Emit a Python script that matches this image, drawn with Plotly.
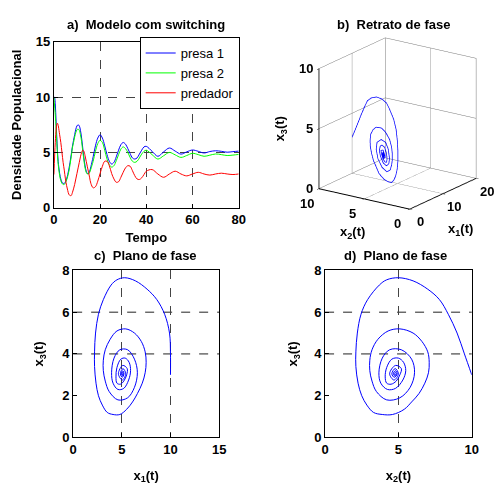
import plotly.graph_objects as go

# ---------------- data ----------------
time = [0, 0.2, 0.4, 0.6, 0.8, 1.0, 1.25, 1.5, 1.75, 2.0, 2.5, 3.0, 3.5, 4.0, 4.5,
        5.0, 5.5, 6.0, 6.5, 7.0, 7.5, 8.0, 8.5, 9.0, 9.5, 10.0, 10.5, 11.0, 11.5,
        12.0, 12.5, 13.0, 13.5, 14.0, 14.5, 15.0, 15.5, 16, 17, 18, 19, 20, 21, 22,
        23, 24, 25, 26, 27, 28, 29, 30, 31, 32, 33, 34, 35, 36, 37, 38, 39, 40,
        42.5, 45, 47.5, 50, 52.5, 55, 57.5, 60, 62.5, 65, 67.5, 70, 72.5, 75, 77.5, 80]

presa1 = [10.0, 10.0, 9.9, 9.4, 8.6, 7.6, 6.4, 5.3, 4.5, 3.9, 3.1, 2.6, 2.3, 2.2, 2.2,
          2.35, 2.6, 3.0, 3.5, 4.1, 4.8, 5.5, 6.1, 6.6, 7.1, 7.4, 7.5, 7.4, 7.0,
          6.3, 5.4, 4.5, 3.8, 3.3, 3.1, 3.1, 3.3, 3.7, 4.6, 5.6, 6.3, 6.6, 6.3, 5.6,
          4.8, 4.2, 3.95, 4.1, 4.6, 5.2, 5.7, 5.9, 5.75, 5.35, 4.9, 4.5, 4.4, 4.5, 4.85, 5.2, 5.5, 5.55,
          5.1, 4.65, 5.05, 5.4, 5.12, 4.85, 5.05, 5.22, 5.1, 4.95, 5.08, 5.15, 5.1, 5.02, 5.07, 5.12]

presa2 = [10.0, 9.5, 9.0, 8.4, 7.8, 7.0, 6.0, 5.0, 4.2, 3.7, 2.9, 2.45, 2.2, 2.1, 2.1,
          2.25, 2.5, 2.85, 3.3, 3.9, 4.6, 5.4, 5.9, 6.4, 6.8, 7.05, 7.1, 7.0, 6.6,
          6.0, 5.1, 4.3, 3.6, 3.2, 3.05, 3.05, 3.2, 3.5, 4.2, 5.1, 5.8, 6.1, 5.9, 5.2,
          4.4, 3.9, 3.67, 3.8, 4.25, 4.8, 5.3, 5.5, 5.35, 5.0, 4.55, 4.2, 4.1, 4.2, 4.5, 4.85, 5.1, 5.2,
          4.8, 4.4, 4.7, 5.0, 4.78, 4.55, 4.72, 4.92, 4.8, 4.65, 4.75, 4.86, 4.8, 4.72, 4.76, 4.82]

predador = [3.0, 4.0, 5.0, 5.9, 6.6, 7.1, 7.5, 7.65, 7.55, 7.3, 6.6, 5.9, 5.0, 4.1, 3.4,
            2.6, 2.0, 1.55, 1.2, 1.1, 1.1, 1.35, 1.7, 2.1, 2.6, 3.1, 3.6, 4.1, 4.6,
            5.0, 5.2, 5.1, 4.7, 4.2, 3.7, 3.2, 2.7, 2.2, 1.8, 1.9, 2.4, 3.1, 3.75, 4.2,
            4.2, 3.8, 3.1, 2.6, 2.3, 2.35, 2.75, 3.2, 3.6, 3.8, 3.75, 3.35, 2.9, 2.6, 2.55, 2.7, 3.0, 3.3,
            3.45, 3.05, 2.75, 3.05, 3.3, 3.05, 2.88, 3.05, 3.2, 3.05, 2.95, 3.05, 3.12, 3.05, 3.0, 3.05]

series_names = ["presa 1", "presa 2", "predador"]
series_colors = ["#0000ff", "#00ff00", "#ff0000"]

ticks_tempo = [0, 20, 40, 60, 80]
ticks_dens = [0, 5, 10, 15]
ticks_x1 = [0, 5, 10, 15]
ticks_x2 = [0, 5, 10]
ticks_x3 = [0, 2, 4, 6, 8]
grid_x3_phase = [4, 6]

ticks3d_x1 = [0, 10, 20]
ticks3d_x2 = [0, 5, 10]
ticks3d_x3 = [0, 5, 10]

titles = ["a)  Modelo com switching", "b)  Retrato de fase",
          "c)  Plano de fase", "d)  Plano de fase"]

# ---------------- figure ----------------
F = "Liberation Sans"
W, H = 499, 492

def px_x(p):
    return p / W

def px_y(p):
    return 1 - p / H

fig = go.Figure()

for vals, nm, col in zip([presa1, presa2, predador], series_names, series_colors):
    fig.add_trace(go.Scatter(x=time, y=vals, name=nm, mode="lines",
                             line=dict(color=col, width=1, shape="spline"),
                             xaxis="x", yaxis="y"))

fig.add_trace(go.Scatter(x=presa1, y=predador, mode="lines", showlegend=False,
                         line=dict(color="#0000ff", width=1, shape="spline"),
                         xaxis="x2", yaxis="y2"))
fig.add_trace(go.Scatter(x=presa2, y=predador, mode="lines", showlegend=False,
                         line=dict(color="#0000ff", width=1, shape="spline"),
                         xaxis="x3", yaxis="y3"))
fig.add_trace(go.Scatter3d(x=presa1, y=presa2, z=predador, mode="lines", showlegend=False,
                           line=dict(color="#0000ff", width=1.5), scene="scene"))

tickfont = dict(family=F, size=13, color="black", weight="bold")
titlefont = dict(family=F, size=13, color="black", weight="bold")

def axis(**kw):
    d = dict(showline=True, linecolor="black", linewidth=1, mirror=True,
             ticks="inside", ticklen=4, tickcolor="black", tickfont=tickfont,
             zeroline=False, showgrid=True, gridcolor="#444", griddash="dash",
             gridwidth=1)
    d.update(kw)
    return d

dom_a_x = [px_x(51), px_x(240)]
dom_a_y = [px_y(207), px_y(36)]
dom_c_x = [px_x(70.7), px_x(220)]
dom_d_x = [px_x(328.3), px_x(478.3)]
dom_cd_y = [px_y(444), px_y(271.7)]

fig.update_layout(
    width=W, height=H, margin=dict(l=0, r=0, t=0, b=0),
    paper_bgcolor="white", plot_bgcolor="white",
    font=dict(family=F, size=13, color="black"),
    xaxis=axis(domain=dom_a_x, range=[0, 80], tickvals=ticks_tempo, anchor="y",
               title=dict(text="Tempo", font=titlefont, standoff=6)),
    yaxis=axis(domain=dom_a_y, range=[0, 15], tickvals=ticks_dens, anchor="x",
               title=dict(text="Densidade Populacional", font=titlefont, standoff=11)),
    xaxis2=axis(domain=dom_c_x, range=[0, 15], tickvals=ticks_x1, anchor="y2",
                title=dict(text="x<sub>1</sub>(t)", font=titlefont, standoff=14)),
    yaxis2=axis(domain=dom_cd_y, range=[0, 8], tickvals=ticks_x3, anchor="x2", showgrid=False,
                title=dict(text="x<sub>3</sub>(t)", font=titlefont, standoff=15)),
    xaxis3=axis(domain=dom_d_x, range=[0, 10], tickvals=ticks_x2, anchor="y3",
                title=dict(text="x<sub>2</sub>(t)", font=titlefont, standoff=14)),
    yaxis3=axis(domain=dom_cd_y, range=[0, 8], tickvals=ticks_x3, anchor="x3", showgrid=False,
                title=dict(text="x<sub>3</sub>(t)", font=titlefont, standoff=13)),
    legend=dict(x=px_x(241), y=px_y(31), xanchor="right", yanchor="top",
                bgcolor="white", bordercolor="black", borderwidth=1,
                font=dict(family=F, size=13, color="black"),
                itemwidth=30, tracegroupgap=0),
    showlegend=True,
)

ax3 = dict(showbackground=False, showgrid=True, gridcolor="#777", gridwidth=1,
           showline=True, linecolor="black", linewidth=2, zeroline=False,
           ticks="outside", ticklen=3, tickcolor="black",
           showticklabels=False, showspikes=False, title=dict(text=""))

scene_ann = []
for v in ticks3d_x3:
    scene_ann.append(dict(x=0, y=10, z=v, text=str(v), showarrow=False,
                          xanchor="right", yanchor="middle", xshift=-4, font=tickfont))
for v in ticks3d_x2:
    scene_ann.append(dict(x=0, y=v, z=0, text=str(v), showarrow=False,
                          xanchor="center", yanchor="middle", xshift=-12, yshift=-15, font=tickfont))
for v in ticks3d_x1:
    scene_ann.append(dict(x=v, y=0, z=0, text=str(v), showarrow=False,
                          xanchor="center", yanchor="middle", xshift=11, yshift=-13, font=tickfont))
scene_ann.append(dict(x=0, y=5, z=0, text="x<sub>2</sub>(t)", showarrow=False,
                      xanchor="center", yanchor="middle", xshift=-12, yshift=-34, font=titlefont))
scene_ann.append(dict(x=10, y=0, z=0, text="x<sub>1</sub>(t)", showarrow=False,
                      xanchor="center", yanchor="middle", xshift=17, yshift=-36, font=titlefont))
scene_ann.append(dict(x=0, y=10, z=5, text="x<sub>3</sub>(t)", showarrow=False, textangle=-90,
                      xanchor="center", yanchor="middle", xshift=-38, font=titlefont))

fig.update_layout(scene=dict(
    domain=dict(x=[0.6166, 0.9966], y=[0.531, 0.981]),
    xaxis=dict(ax3, range=[0, 20], tickvals=ticks3d_x1),
    yaxis=dict(ax3, range=[0, 10], tickvals=ticks3d_x2),
    zaxis=dict(ax3, range=[0, 10], tickvals=ticks3d_x3),
    aspectmode="manual", aspectratio=dict(x=1.08, y=1.03, z=1.18),
    camera=dict(eye=dict(x=-0.776 * 2.0, y=-0.541 * 2.0, z=0.324 * 2.0),
                up=dict(x=0, y=0, z=1),
                projection=dict(type="orthographic")),
    bgcolor="white",
    annotations=scene_ann,
))

for v in grid_x3_phase:
    for xr, yr in (("x2 domain", "y2"), ("x3 domain", "y3")):
        fig.add_shape(type="line", xref=xr, yref=yr, x0=0, x1=1, y0=v, y1=v,
                      line=dict(color="#222", width=1, dash="dash"), layer="below")

title_pos = [(145, 18), (398, 18), (145, 256), (400, 256)]
for txt, (tx, ty) in zip(titles, title_pos):
    fig.add_annotation(text=txt, x=px_x(tx), y=px_y(ty), xref="paper", yref="paper",
                       showarrow=False, font=titlefont, xanchor="center", yanchor="middle")

fig.write_html("out.html")
